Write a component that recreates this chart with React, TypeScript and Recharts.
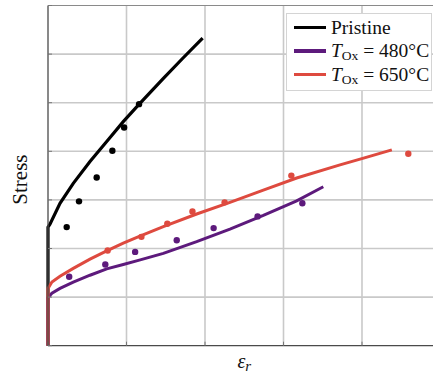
import { ComposedChart, Line, Scatter, XAxis, YAxis, ReferenceLine, Legend } from 'recharts'

const strainTicks = [0, 1, 2, 3, 4, 5]
const stressTicks = [0, 1, 2, 3, 4, 5, 6, 7]

// fitted flow curves as [strain, stress]
const pristineFit = [
  [0, 0], [0, 2.44], [0.025, 2.5], [0.153, 2.93], [0.322, 3.34], [0.535, 3.79],
  [0.748, 4.2], [0.959, 4.61], [1.15, 4.95], [1.47, 5.5], [1.72, 5.92], [1.97, 6.33],
]
const ox480Fit = [
  [0, 0], [0, 0.99], [0.05, 1.08], [0.153, 1.18], [0.322, 1.31], [0.535, 1.45],
  [0.748, 1.58], [0.959, 1.67], [1.163, 1.76], [1.469, 1.9], [1.894, 2.14],
  [2.318, 2.4], [2.743, 2.68], [3.168, 2.98], [3.507, 3.27],
]
const ox650Fit = [
  [0, 0], [0, 1.18], [0.05, 1.31], [0.153, 1.43], [0.322, 1.59], [0.535, 1.78],
  [0.748, 1.95], [0.959, 2.11], [1.163, 2.25], [1.469, 2.45], [1.894, 2.71],
  [2.318, 2.95], [2.743, 3.2], [3.168, 3.45], [3.72, 3.72], [4.02, 3.86], [4.38, 4.03],
]

// measured points
const pristinePts = [[0.238, 2.44], [0.395, 2.97], [0.62, 3.46], [0.82, 4.01], [0.97, 4.49], [1.16, 4.97]]
const ox480Pts = [[0.27, 1.42], [0.73, 1.67], [1.11, 1.93], [1.64, 2.17], [2.11, 2.42], [2.67, 2.66], [3.24, 2.93]]
const ox650Pts = [[0.76, 1.96], [1.19, 2.24], [1.52, 2.51], [1.84, 2.76], [2.25, 2.95], [3.1, 3.5], [4.59, 3.95]]

const legendNames = ['Pristine', '480', '650']
const colors = ['#000000', '#5d1a7c', '#de4a3f']

const toRows = (pairs: number[][]) => pairs.map(([x, y]) => ({ x, y }))

const font = '"Liberation Serif", serif'
const gridColor = '#c9c9c9'
const frameColor = '#8a8a8a'

const xMax = strainTicks[strainTicks.length - 1]
const yMax = stressTicks[stressTicks.length - 1]

// grid drawn as plain line series spanning the axis ranges
const hGrid = stressTicks.slice(1, -1).map((v) => [[0, v], [xMax, v]])
const vGrid = strainTicks.slice(1, -1).map((v) => [[v, 0], [v, yMax]])

const dot = (color: string) => (props: any) => (
  <circle cx={props.cx} cy={props.cy} r={3.2} fill={color} />
)

// axes keep their ticks but print no numbers
const blank = () => ''

function renderLegend() {
  return (
    <div
      style={{
        boxSizing: 'border-box',
        width: 146,
        background: '#fff',
        border: '1px solid #d4d4d4',
        padding: '1.5px 0 3.5px 6.5px',
        fontFamily: font,
        fontSize: 19.5,
        lineHeight: '23.7px',
        color: '#111',
        whiteSpace: 'nowrap',
      }}
    >
      {legendNames.map((name, i) => (
        <div key={name} style={{ display: 'flex', alignItems: 'center' }}>
          <span style={{ display: 'inline-block', width: 32, height: 3.2, background: colors[i], marginRight: 5.5 }} />
          {i === 0 ? (
            <span>{name}</span>
          ) : (
            <span>
              <i>T</i>
              <sub style={{ fontSize: 13.5, verticalAlign: -3, lineHeight: 0 }}>Ox</sub> = {name}°C
            </span>
          )}
        </div>
      ))}
    </div>
  )
}

const stressLabel = (props: any) => {
  const vb = props.viewBox
  const cx = vb.x + 20
  const cy = vb.y + vb.height / 2 + 4
  return (
    <text x={cx} y={cy} transform={`rotate(-90, ${cx}, ${cy})`} textAnchor="middle" dominantBaseline="central"
      fontFamily={font} fontSize={21} fill="#111">
      Stress
    </text>
  )
}

const strainLabel = (props: any) => {
  const vb = props.viewBox
  return (
    <text x={vb.x + vb.width / 2} y={vb.y + 22} textAnchor="middle" fontFamily={font} fill="#111">
      <tspan fontStyle="italic" fontSize={20}>ε</tspan>
      <tspan fontStyle="italic" fontSize={15} dy={3}>r</tspan>
    </text>
  )
}

function App() {
  return (
    <div style={{ position: 'absolute', left: 0, top: 0, width: 433, height: 376, overflow: 'hidden', background: '#fff' }}>
      <ComposedChart width={450} height={376} margin={{ top: 5.5, right: 9.5, bottom: 0, left: 0 }}>
        <XAxis
          type="number"
          dataKey="x"
          domain={[0, xMax]}
          ticks={strainTicks}
          interval={0}
          tickFormatter={blank}
          tickSize={-4}
          height={30.3}
          axisLine={{ stroke: '#4a4a4a', strokeWidth: 1.3 }}
          tickLine={{ stroke: '#777' }}
          label={{ content: strainLabel }}
        />
        <YAxis
          type="number"
          dataKey="y"
          domain={[0, yMax]}
          ticks={stressTicks}
          interval={0}
          tickFormatter={blank}
          tickSize={-4}
          width={48}
          axisLine={{ stroke: '#4a4a4a', strokeWidth: 1.3 }}
          tickLine={{ stroke: '#777' }}
          label={{ content: stressLabel }}
        />
        {hGrid.map((seg, i) => (
          <Line key={`h${i}`} data={toRows(seg)} dataKey="y" stroke={gridColor} strokeWidth={1.6} dot={false}
            activeDot={false} legendType="none" type="linear" isAnimationActive={false} />
        ))}
        {vGrid.map((seg, i) => (
          <Line key={`v${i}`} data={toRows(seg)} dataKey="y" stroke={gridColor} strokeWidth={1.6} dot={false}
            activeDot={false} legendType="none" type="linear" isAnimationActive={false} />
        ))}
        <ReferenceLine y={yMax} stroke={frameColor} strokeWidth={1.2} />
        <ReferenceLine x={xMax} stroke={frameColor} strokeWidth={1.2} />
        <Line data={toRows(pristineFit)} dataKey="y" stroke={colors[0]} strokeWidth={3.2} dot={false} type="linear" isAnimationActive={false} />
        <Line data={toRows(ox480Fit)} dataKey="y" stroke={colors[1]} strokeWidth={3} dot={false} type="linear" isAnimationActive={false} />
        <Line data={toRows(ox650Fit)} dataKey="y" stroke={colors[2]} strokeWidth={3} dot={false} type="linear" isAnimationActive={false} />
        <Scatter data={toRows(pristinePts)} dataKey="y" shape={dot(colors[0])} isAnimationActive={false} />
        <Scatter data={toRows(ox480Pts)} dataKey="y" shape={dot(colors[1])} isAnimationActive={false} />
        <Scatter data={toRows(ox650Pts)} dataKey="y" shape={dot(colors[2])} isAnimationActive={false} />
        <Legend
          content={renderLegend}
          layout="vertical"
          align="center"
          verticalAlign="middle"
          wrapperStyle={{ top: 13, left: 286, width: 'auto' }}
        />
      </ComposedChart>
    </div>
  )
}

export default App
